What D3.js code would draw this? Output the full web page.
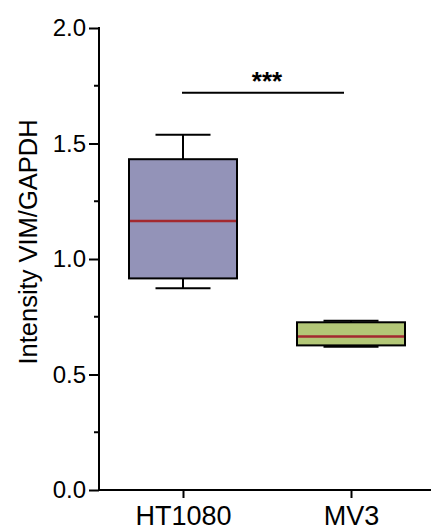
<!DOCTYPE html>
<html>
<head>
<meta charset="utf-8">
<script src="https://cdn.jsdelivr.net/npm/d3@7"></script>
<style>
  html, body { margin: 0; padding: 0; background: #fff; }
  svg { display: block; font-family: "Liberation Sans", Arial, sans-serif; }
</style>
</head>
<body>
<svg id="chart" width="431" height="530"></svg>
<script>
// Box-plot summaries of VIM/GAPDH band intensity per cell line
const groups     = ["HT1080", "MV3"];
const whiskerMax = [1.538, 0.733];
const q3         = [1.432, 0.726];
const medians    = [1.165, 0.665];
const q1         = [0.916, 0.626];
const whiskerMin = [0.873, 0.620];
const fills      = ["#9393b8", "#b3c777"];

const yTicks      = [0, 0.5, 1.0, 1.5, 2.0];
const yMinorTicks = [0.25, 0.75, 1.25, 1.75];
const sigLabel    = "***";

const svg = d3.select("#chart");
const plotLeft = 99, plotRight = 431, plotTop = 28, plotBottom = 490;

const y = d3.scaleLinear().domain([0, 2]).range([plotBottom, plotTop]);
const x = d3.scalePoint().domain(groups).range([183, 351]);

const boxW = 108, capW = 55;

// Y axis with major and minor ticks
const yAxis = svg.append("g").attr("transform", `translate(${plotLeft},0)`);
yAxis.call(d3.axisLeft(y).tickValues(yTicks).tickFormat(d3.format(".1f")).tickSize(10).tickPadding(3));
yAxis.select(".domain").remove();
yAxis.selectAll(".tick line").attr("stroke", "#000").attr("stroke-width", 2);
yAxis.selectAll(".tick text").attr("font-size", 24).attr("fill", "#000").attr("font-family", "Liberation Sans, Arial, sans-serif");
yAxis.selectAll(".minor").data(yMinorTicks).enter().append("line")
  .attr("class", "minor")
  .attr("x1", -5).attr("x2", 0)
  .attr("y1", d => y(d)).attr("y2", d => y(d))
  .attr("stroke", "#000").attr("stroke-width", 2);
svg.append("line").attr("x1", plotLeft).attr("x2", plotLeft).attr("y1", y(2) - 1).attr("y2", plotBottom + 1)
  .attr("stroke", "#000").attr("stroke-width", 2);

// X axis
const xAxis = svg.append("g").attr("transform", `translate(0,${plotBottom})`);
xAxis.call(d3.axisBottom(x).tickSize(8).tickPadding(8));
xAxis.select(".domain").remove();
xAxis.selectAll(".tick line").attr("stroke", "#000").attr("stroke-width", 2);
xAxis.selectAll(".tick text").attr("font-size", 27).attr("fill", "#000").attr("font-family", "Liberation Sans, Arial, sans-serif");
svg.append("line").attr("x1", plotLeft - 1).attr("x2", plotRight).attr("y1", plotBottom).attr("y2", plotBottom)
  .attr("stroke", "#000").attr("stroke-width", 2);

// Y title
svg.append("text")
  .attr("transform", `translate(37,242) rotate(-90)`)
  .attr("text-anchor", "middle")
  .attr("font-size", 25.5)
  .attr("fill", "#000")
  .text("Intensity VIM/GAPDH");

// Boxes
const boxes = svg.selectAll(".box").data(groups).enter().append("g").attr("class", "box");
boxes.each(function(g, i) {
  const el = d3.select(this);
  const cx = x(g);
  // whiskers
  el.append("line").attr("x1", cx).attr("x2", cx).attr("y1", y(whiskerMax[i])).attr("y2", y(q3[i]))
    .attr("stroke", "#000").attr("stroke-width", 2);
  el.append("line").attr("x1", cx).attr("x2", cx).attr("y1", y(q1[i])).attr("y2", y(whiskerMin[i]))
    .attr("stroke", "#000").attr("stroke-width", 2);
  el.append("line").attr("x1", cx - capW / 2).attr("x2", cx + capW / 2).attr("y1", y(whiskerMax[i])).attr("y2", y(whiskerMax[i]))
    .attr("stroke", "#000").attr("stroke-width", 2);
  el.append("line").attr("x1", cx - capW / 2).attr("x2", cx + capW / 2).attr("y1", y(whiskerMin[i])).attr("y2", y(whiskerMin[i]))
    .attr("stroke", "#000").attr("stroke-width", 2);
  // box
  el.append("rect")
    .attr("x", cx - boxW / 2).attr("width", boxW)
    .attr("y", y(q3[i])).attr("height", y(q1[i]) - y(q3[i]))
    .attr("fill", fills[i]).attr("stroke", "#000").attr("stroke-width", 2);
  // median
  el.append("line").attr("x1", cx - boxW / 2 + 1).attr("x2", cx + boxW / 2 - 1)
    .attr("y1", y(medians[i])).attr("y2", y(medians[i]))
    .attr("stroke", "#a3292f").attr("stroke-width", 2.5);
});

// Significance bracket
const sigY = 92.7;
svg.append("line").attr("x1", x(groups[0]) - 1).attr("x2", x(groups[1]) - 7)
  .attr("y1", sigY).attr("y2", sigY).attr("stroke", "#000").attr("stroke-width", 2);
svg.append("text")
  .attr("x", (x(groups[0]) + x(groups[1])) / 2)
  .attr("y", sigY - 3)
  .attr("text-anchor", "middle")
  .attr("font-size", 26)
  .attr("font-weight", "bold")
  .attr("fill", "#000")
  .text(sigLabel);
</script>
</body>
</html>
